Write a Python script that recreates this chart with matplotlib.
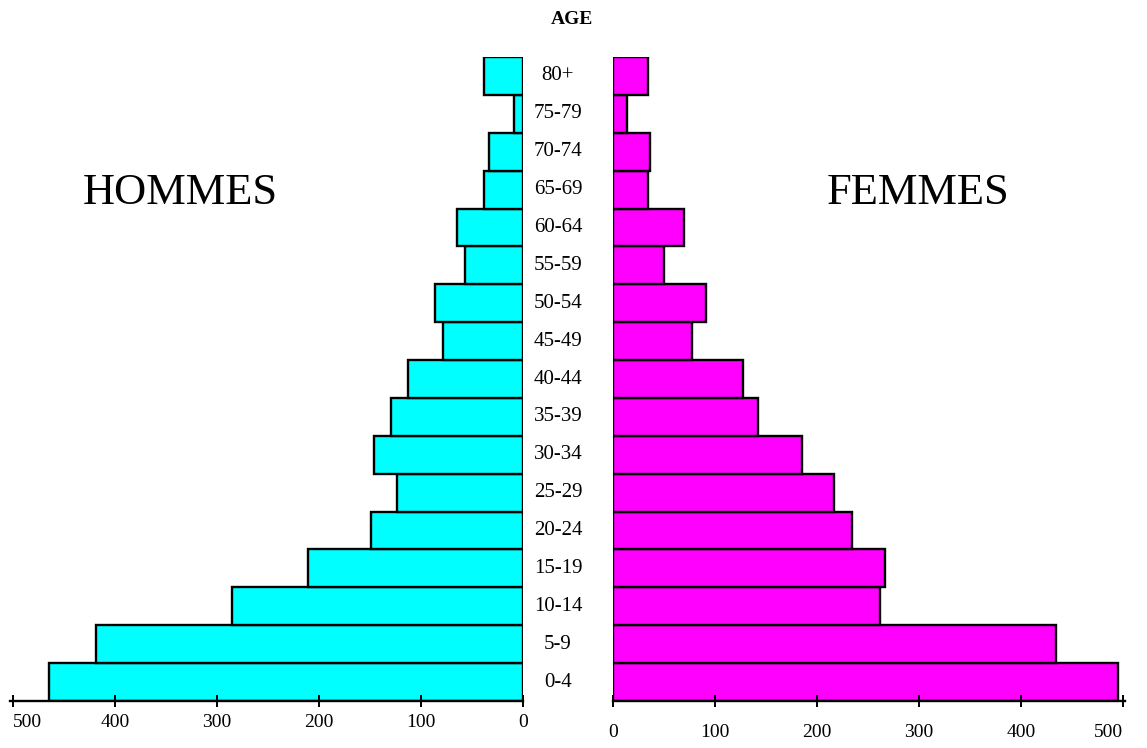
import matplotlib.pyplot as plt
from matplotlib.transforms import blended_transform_factory

# tranches d'age, du bas vers le haut
ages = ['0-4', '5-9', '10-14', '15-19', '20-24', '25-29', '30-34', '35-39',
        '40-44', '45-49', '50-54', '55-59', '60-64', '65-69', '70-74', '75-79', '80+']
hommes = [465, 419, 285, 211, 149, 124, 146, 129, 113, 78, 86, 57, 65, 38, 33, 9, 38]
femmes = [495, 434, 262, 267, 234, 217, 185, 142, 127, 77, 91, 50, 70, 34, 36, 14, 34]
ticks = [0, 100, 200, 300, 400, 500]

W, H = 1147, 748
fig = plt.figure(figsize=(W / 100, H / 100), dpi=100)
plt.rcParams['font.family'] = ['Liberation Serif', 'DejaVu Serif']

bot = 1 - 701 / H
hgt = 644 / H
ax_l = fig.add_axes([10 / W, bot, 513 / W, hgt])
ax_r = fig.add_axes([613 / W, bot, 512 / W, hgt])

y = list(range(len(ages)))
ax_l.barh(y, hommes, height=1.0, color='#00ffff', edgecolor='black', linewidth=1.7)
ax_r.barh(y, femmes, height=1.0, color='#ff00ff', edgecolor='black', linewidth=1.7)

ax_l.set_xlim(503, 0)
ax_r.set_xlim(0, 502)

for ax in (ax_l, ax_r):
    ax.set_ylim(-0.5, len(ages) - 0.5)
    for s in ('top', 'left', 'right'):
        ax.spines[s].set_visible(False)
    ax.spines['bottom'].set_linewidth(1.7)
    ax.set_yticks([])
    ax.set_xticks(ticks)
    ax.tick_params(axis='x', direction='inout', length=9, width=1.4, labelsize=14)
    ax.set_facecolor('none')

ax_l.tick_params(axis='x', pad=5)
ax_r.tick_params(axis='x', pad=12)
# le 500 de gauche commence sur sa graduation
ax_l.get_xticklabels()[-1].set_horizontalalignment('left')
ax_r.get_xticklabels()[-1].set_horizontalalignment('right')

# etiquettes d'age entre les deux moities
tr = blended_transform_factory(fig.transFigure, ax_l.transData)
for i, a in enumerate(ages):
    fig.text(558 / W, i, a, transform=tr, ha='center', va='center', fontsize=15)

fig.text(572 / W, 1 - 20 / H, 'AGE', ha='center', va='center', fontsize=14, fontweight='bold')
fig.text(180 / W, 1 - 193 / H, 'HOMMES', ha='center', va='center', fontsize=32)
fig.text(918 / W, 1 - 193 / H, 'FEMMES', ha='center', va='center', fontsize=32)

fig.savefig('out.png', dpi=100)
